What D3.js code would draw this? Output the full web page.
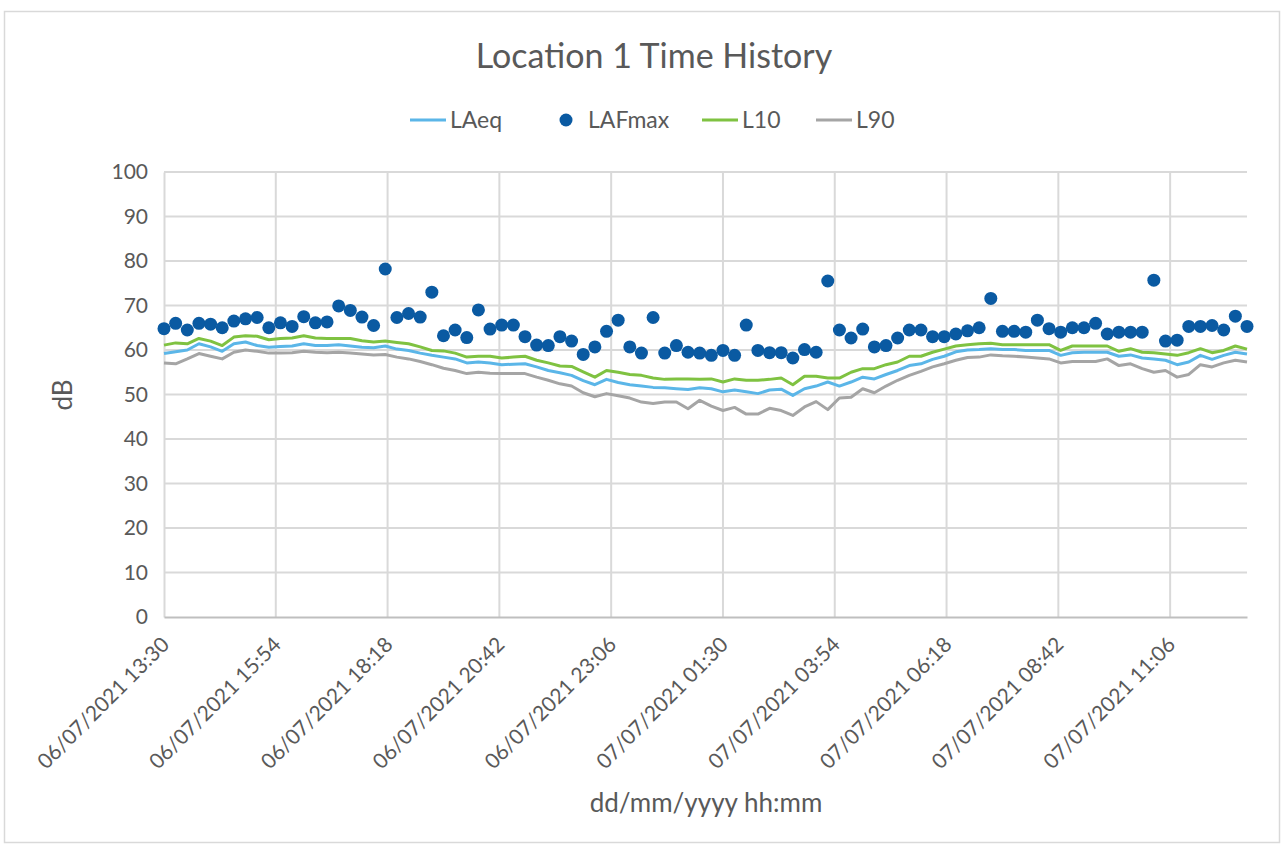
<!DOCTYPE html>
<html>
<head>
<meta charset="utf-8">
<script src="https://cdn.jsdelivr.net/npm/d3@7"></script>
<style>
  body { margin: 0; background: #fff; }
  text { font-family: Lato, "Noto Sans", sans-serif; fill: #595959; }
</style>
</head>
<body>
<div id="chart"></div>
<script>
// readings every 15 minutes, 06/07/2021 13:30 -> 07/07/2021 12:45
var startTime = "06/07/2021 13:30",
    endTime = "07/07/2021 12:45";

var tickLabels = ["06/07/2021 13:30", "06/07/2021 15:54", "06/07/2021 18:18", "06/07/2021 20:42",
    "06/07/2021 23:06", "07/07/2021 01:30", "07/07/2021 03:54", "07/07/2021 06:18",
    "07/07/2021 08:42", "07/07/2021 11:06"];

var yTicks = [0, 10, 20, 30, 40, 50, 60, 70, 80, 90, 100];

var LAeq = [59.2, 59.6, 60, 61.4, 60.7, 59.7, 61.4, 61.8, 61, 60.6, 60.8, 60.9, 61.4, 61, 61, 61.2, 60.9, 60.6, 60.5,
    60.9, 60.2, 59.9, 59.3, 58.8, 58.4, 58, 57.1, 57.3, 57.1, 56.7, 56.8, 56.9, 56.2, 55.4, 54.9, 54.3, 53.1,
    52.2, 53.4, 52.7, 52.2, 51.9, 51.6, 51.5, 51.3, 51.1, 51.5, 51.3, 50.6, 51, 50.6, 50.2, 51, 51.2, 49.8, 51.3,
    51.9, 52.8, 51.9, 52.8, 53.9, 53.5, 54.5, 55.4, 56.5, 56.9, 57.9, 58.6, 59.6, 60, 60.1, 60.3, 60.1, 60.1,
    59.9, 59.9, 59.9, 58.8, 59.4, 59.5, 59.5, 59.5, 58.6, 58.9, 58.2, 58, 57.7, 56.7, 57.3, 58.8, 57.9, 58.8, 59.5, 59.1];

var LAFmax = [64.8, 66, 64.5, 66, 65.8, 65, 66.5, 67, 67.3, 65, 66.1, 65.3, 67.5, 66.1, 66.3, 69.9, 68.9, 67.4, 65.5,
    78.2, 67.3, 68.2, 67.4, 73, 63.2, 64.5, 62.8, 69, 64.7, 65.6, 65.6, 63, 61.1, 61, 63, 62, 59, 60.7, 64.2,
    66.7, 60.7, 59.3, 67.3, 59.3, 61, 59.5, 59.3, 58.8, 59.9, 58.8, 65.6, 59.9, 59.4, 59.4, 58.2, 60.1, 59.5,
    75.5, 64.5, 62.7, 64.7, 60.7, 61, 62.7, 64.5, 64.5, 63, 63, 63.6, 64.3, 65, 71.6, 64.2, 64.2, 64, 66.7,
    64.8, 64, 65, 65, 66, 63.6, 64, 64, 64, 75.7, 62, 62.2, 65.3, 65.3, 65.5, 64.5, 67.6, 65.3];

var L10 = [61.1, 61.6, 61.4, 62.6, 62, 61, 62.9, 63.2, 63.1, 62.3, 62.6, 62.7, 63.2, 62.7, 62.6, 62.6, 62.6, 62.1, 61.8,
    62, 61.7, 61.4, 60.7, 59.9, 59.8, 59.3, 58.4, 58.6, 58.6, 58.2, 58.4, 58.6, 57.7, 57.1, 56.4, 56.3, 55.1,
    53.9, 55.4, 55, 54.5, 54.3, 53.7, 53.4, 53.5, 53.5, 53.4, 53.5, 52.8, 53.5, 53.2, 53.2, 53.4, 53.7, 52.2, 54.1,
    54.1, 53.7, 53.7, 55, 55.8, 55.8, 56.7, 57.3, 58.6, 58.6, 59.5, 60.2, 60.9, 61.2, 61.4, 61.5, 61.2, 61.2,
    61.2, 61.2, 61.2, 59.9, 60.9, 60.9, 60.9, 60.9, 59.7, 60.3, 59.5, 59.4, 59.1, 58.8, 59.4, 60.3, 59.4, 59.9, 60.9, 60.2];

var L90 = [57.1, 56.9, 58, 59.2, 58.6, 58, 59.5, 60, 59.7, 59.3, 59.3, 59.4, 59.7, 59.5, 59.4, 59.5, 59.3, 59.1, 58.9,
    59, 58.4, 58, 57.4, 56.7, 55.9, 55.4, 54.7, 55, 54.8, 54.7, 54.7, 54.7, 53.9, 53.2, 52.4, 51.9, 50.4,
    49.5, 50.2, 49.7, 49.2, 48.3, 48, 48.3, 48.3, 46.8, 48.7, 47.4, 46.4, 47.1, 45.6, 45.6, 46.9, 46.4, 45.3, 47.2,
    48.4, 46.6, 49.2, 49.4, 51.3, 50.4, 51.9, 53.2, 54.3, 55.2, 56.2, 56.9, 57.7, 58.3, 58.4, 58.9, 58.7, 58.6,
    58.4, 58.2, 58, 57.1, 57.4, 57.4, 57.4, 58, 56.5, 56.9, 55.8, 55, 55.4, 53.9, 54.5, 56.7, 56.2, 57.1, 57.7, 57.3];

var W = 1285, H = 845;
var margin = { top: 172, right: 38, bottom: 228, left: 164 },
    width = W - margin.left - margin.right,
    height = H - margin.top - margin.bottom;

var parseTime = d3.timeParse("%d/%m/%Y %H:%M");
var t0 = parseTime(startTime), t1 = parseTime(endTime);
var times = d3.timeMinute.every(15).range(t0, new Date(+t1 + 1));

var svg = d3.select("#chart").append("svg")
    .attr("width", W)
    .attr("height", H);

// chart border
svg.append("rect")
    .attr("x", 4.5).attr("y", 11.5)
    .attr("width", 1275).attr("height", 831)
    .attr("fill", "#fff")
    .attr("stroke", "#d9d9d9")
    .attr("stroke-width", 1.5);

svg.append("text")
    .attr("x", 654).attr("y", 68)
    .attr("text-anchor", "middle")
    .style("font-size", "34px")
    .text("Location 1 Time History");

var g = svg.append("g")
    .attr("transform", "translate(" + margin.left + "," + margin.top + ")");

var x = d3.scaleTime().domain([t0, t1]).range([0, width]);
var y = d3.scaleLinear().domain([0, 100]).range([height, 0]);
var tickDates = tickLabels.map(parseTime);

// gridlines
g.append("g").selectAll("line")
    .data(yTicks.slice(1))
    .enter().append("line")
    .attr("x1", 0).attr("x2", width)
    .attr("y1", function (d) { return y(d); })
    .attr("y2", function (d) { return y(d); })
    .attr("stroke", "#d9d9d9").attr("stroke-width", 2);

g.append("g").selectAll("line")
    .data(tickDates.slice(1))
    .enter().append("line")
    .attr("x1", function (d) { return x(d); })
    .attr("x2", function (d) { return x(d); })
    .attr("y1", 0).attr("y2", height)
    .attr("stroke", "#d9d9d9").attr("stroke-width", 2);

// axes
var yAxis = g.append("g")
    .call(d3.axisLeft(y).tickValues(yTicks).tickSize(0).tickPadding(16));
yAxis.select(".domain").attr("stroke", "#d9d9d9").attr("stroke-width", 2);
yAxis.selectAll("text").style("font-size", "21px").attr("fill", "#595959")
    .style("font-family", "Lato, sans-serif");

var xAxis = g.append("g")
    .attr("transform", "translate(0," + height + ")")
    .call(d3.axisBottom(x).tickValues(tickDates).tickSize(0)
        .tickFormat(function (d, i) { return tickLabels[i]; }));
xAxis.select(".domain").attr("stroke", "#bfbfbf").attr("stroke-width", 2);
xAxis.selectAll("text")
    .attr("y", null).attr("dy", null)
    .attr("text-anchor", "end")
    .attr("transform", "translate(6,29) rotate(-45)")
    .style("font-size", "21px").attr("fill", "#595959")
    .style("font-family", "Lato, sans-serif");

// axis titles
svg.append("text")
    .attr("x", 706).attr("y", 812)
    .attr("text-anchor", "middle")
    .style("font-size", "26px")
    .text("dd/mm/yyyy hh:mm");

svg.append("text")
    .attr("transform", "translate(72,395) rotate(-90)")
    .attr("text-anchor", "middle")
    .style("font-size", "26px")
    .text("dB");

// series
var line = function (vals) {
    return d3.line()
        .x(function (d, i) { return x(times[i]); })
        .y(function (d) { return y(d); })(vals);
};

var lineSeries = [
    { name: "L90", values: L90, color: "#a5a5a5" },
    { name: "L10", values: L10, color: "#7fc241" },
    { name: "LAeq", values: LAeq, color: "#5bb6e8" }
];

lineSeries.forEach(function (s) {
    g.append("path")
        .attr("d", line(s.values))
        .attr("fill", "none")
        .attr("stroke", s.color)
        .attr("stroke-width", 3)
        .attr("stroke-linejoin", "round");
});

g.append("g").selectAll("circle")
    .data(LAFmax)
    .enter().append("circle")
    .attr("cx", function (d, i) { return x(times[i]); })
    .attr("cy", function (d) { return y(d); })
    .attr("r", 6.5)
    .attr("fill", "#0a5aa2");

// legend
var legend = svg.append("g");
var items = [
    { name: "LAeq", color: "#5bb6e8", type: "line", x: 410 },
    { name: "LAFmax", color: "#0a5aa2", type: "dot", x: 558 },
    { name: "L10", color: "#7fc241", type: "line", x: 702 },
    { name: "L90", color: "#a5a5a5", type: "line", x: 816 }
];
items.forEach(function (it) {
    if (it.type === "line") {
        legend.append("line")
            .attr("x1", it.x).attr("x2", it.x + 36)
            .attr("y1", 120).attr("y2", 120)
            .attr("stroke", it.color).attr("stroke-width", 3);
        legend.append("text")
            .attr("x", it.x + 40).attr("y", 128)
            .style("font-size", "23px")
            .text(it.name);
    } else {
        legend.append("circle")
            .attr("cx", it.x + 8).attr("cy", 120).attr("r", 6.5)
            .attr("fill", it.color);
        legend.append("text")
            .attr("x", it.x + 30).attr("y", 128)
            .style("font-size", "23px")
            .text(it.name);
    }
});
</script>
</body>
</html>
